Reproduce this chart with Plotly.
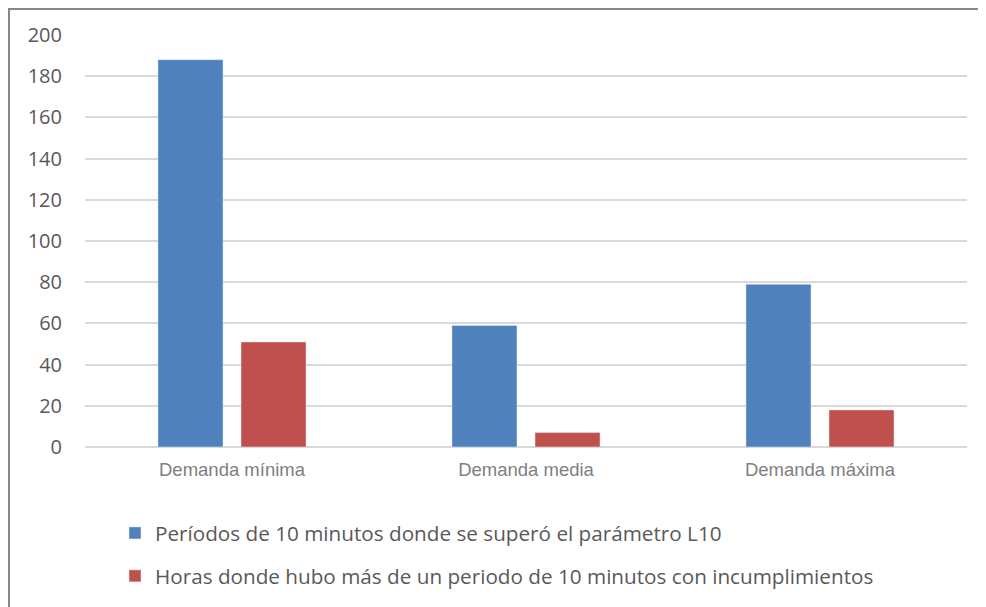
import plotly.graph_objects as go

categories = ["Demanda mínima", "Demanda media", "Demanda máxima"]
periodos_l10 = [188, 59, 79]
horas_incumplimiento = [51, 7, 18]

name_periodos = "Períodos de 10 minutos donde se superó el parámetro L10"
name_horas = "Horas donde hubo más de un periodo de 10 minutos con incumplimientos"

# page has an 8px body margin, so the figure is drawn 8px in from the corner
W, H = 978, 599
L, R, T, B = 77, 19, 27, 160
pw, ph = W - L - R, H - T - B


def px_x(x):
    return (x - L) / pw


def px_y(y):
    return (H - B - y) / ph


fig = go.Figure()
fig.add_trace(go.Bar(
    x=categories, y=periodos_l10, name=name_periodos,
    marker=dict(color="#4f81bd"), legendgroup="a",
))
fig.add_trace(go.Bar(
    x=categories, y=horas_incumplimiento, name=name_horas,
    marker=dict(color="#c0504d"), legendgroup="b",
))

# outer chart border (left + top only visible)
fig.add_shape(type="line", xref="paper", yref="paper",
              x0=px_x(1), x1=px_x(1), y0=px_y(0), y1=px_y(610),
              line=dict(color="#868686", width=2))
fig.add_shape(type="line", xref="paper", yref="paper",
              x0=px_x(0), x1=px_x(990), y0=px_y(1), y1=px_y(1),
              line=dict(color="#868686", width=2))

fig.update_layout(
    width=W, height=H,
    margin=dict(l=L, r=R, t=T, b=B, autoexpand=False),
    paper_bgcolor="white", plot_bgcolor="white",
    barmode="group", bargap=0.435, bargroupgap=0.217,
    font=dict(family="Open Sans", color="#595959"),
    showlegend=True,
    legend=dict(
        orientation="v", x=px_x(107), xanchor="left",
        y=px_y(505), yanchor="top",
        font=dict(family="Open Sans", size=20.7, color="#595959"),
        tracegroupgap=13, traceorder="grouped",
        bgcolor="rgba(0,0,0,0)",
    ),
)
fig.update_yaxes(
    range=[0, 200], dtick=20, showgrid=True, gridcolor="#d9d9d9", gridwidth=1.5,
    zeroline=True, zerolinecolor="#d9d9d9", zerolinewidth=1.5,
    showline=False, ticks="", ticklabelstandoff=22,
    tickfont=dict(family="Open Sans", size=20, color="#595959"),
)
fig.update_xaxes(
    showgrid=False, showline=False, ticks="", ticklabelstandoff=9,
    tickfont=dict(family="Liberation Sans", size=18.5, color="#808080"),
)

fig.write_html("out.html")
